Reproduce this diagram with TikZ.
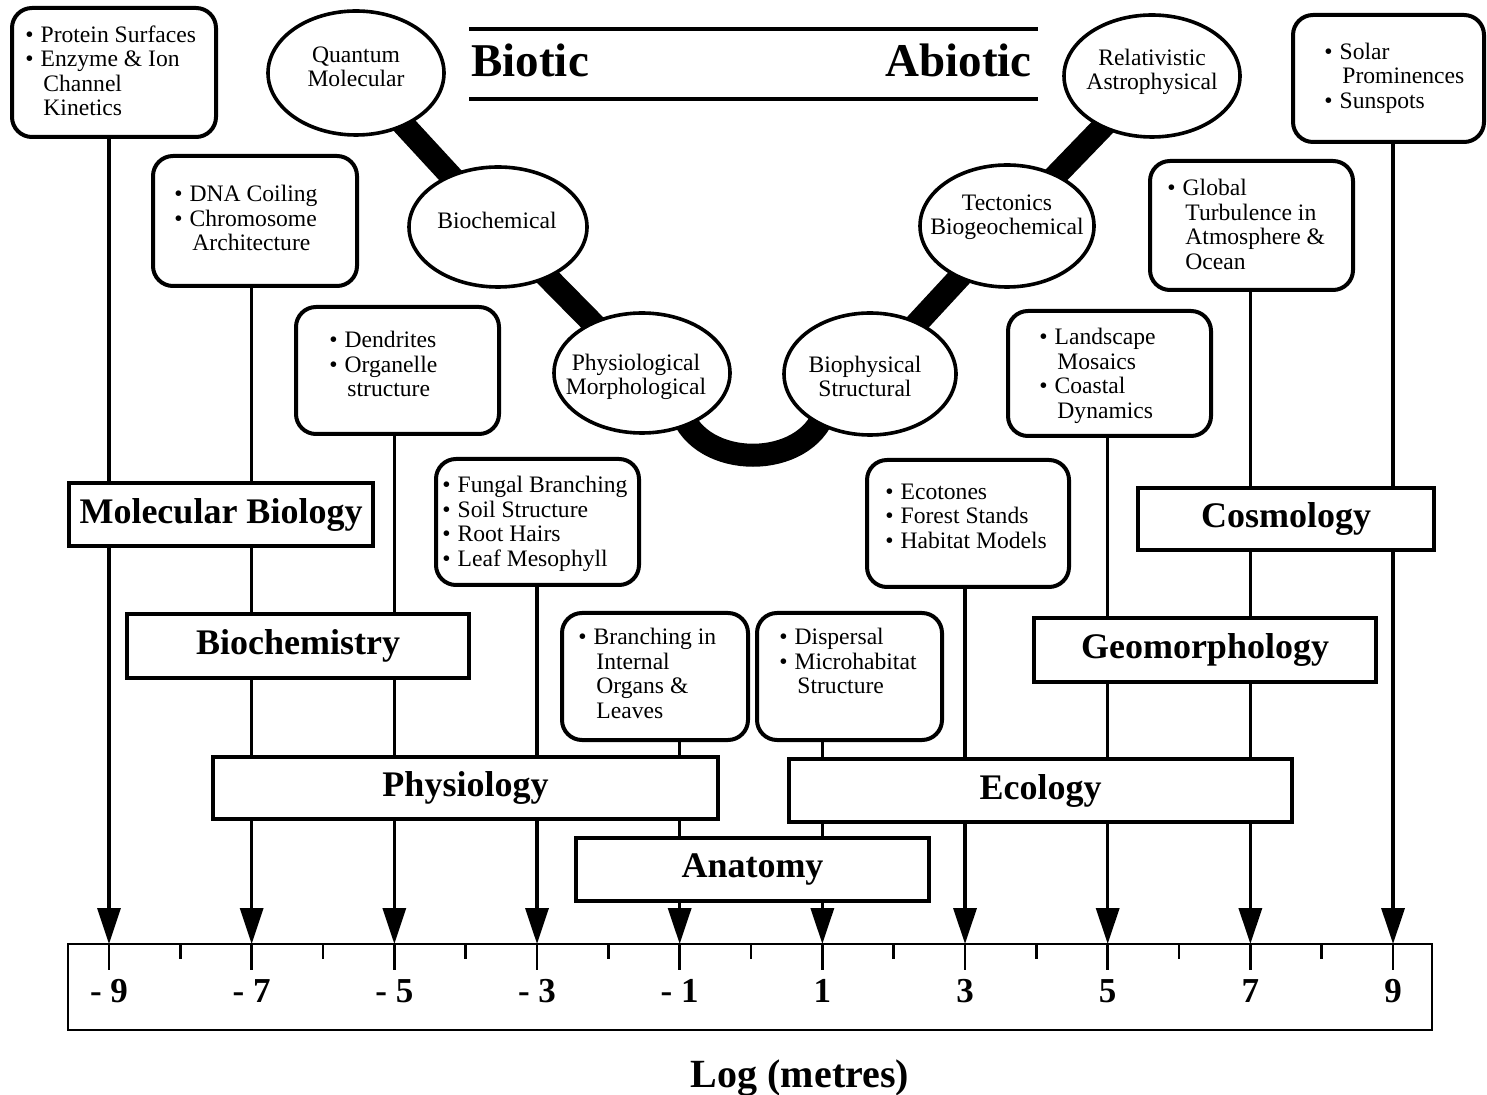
\documentclass[tikz,border=0pt]{standalone}
\usepackage{fontspec}
\setmainfont{Liberation Serif}
\usetikzlibrary{shapes.geometric,arrows.meta}
\pgfdeclarelayer{background}
\pgfsetlayers{background,main}
\newcommand{\bl}{\textbullet\hspace{3.5pt}}
\newcommand{\ind}{\hspace*{9pt}}
\begin{document}
\begin{tikzpicture}[x=0.5pt,y=-0.5pt,
  rbox/.style={draw, line width=2pt, rounded corners=10pt, fill=white, inner sep=0pt},
  dbox/.style={draw, line width=2pt, fill=white, inner sep=0pt, font=\bfseries\fontsize{18}{20}\selectfont},
  ell/.style={draw, ellipse, line width=1.8pt, fill=white, inner sep=0pt},
  etext/.style={align=center, inner sep=0pt, font=\fontsize{11.8}{12}\selectfont},
  btext/.style={align=left, anchor=north west, inner sep=0pt, font=\fontsize{11.8}{12.25}\selectfont},
  conn/.style={line width=1.7pt, -{Triangle[length=18pt,width=11.5pt]}},
  thickbar/.style={line width=11.5pt},
  rtick/.style={line width=1.3pt},
  lab/.style={font=\bfseries\fontsize{17.5}{18}\selectfont, anchor=base, inner sep=0pt},
  titlefont/.style={font=\bfseries\fontsize{23.5}{26}\selectfont, inner sep=0pt}
]
\useasboundingbox (0,0) rectangle (1487,1095);

% ---------- title ----------
\draw[line width=1.75pt] (469,29) -- (1038,29);
\draw[line width=1.75pt] (469,99) -- (1038,99);
\node[titlefont, anchor=base west] (biotic) at (471,77) {Biotic};
\node[titlefont, anchor=base east] (abiotic) at (1032,77) {Abiotic};

% ---------- ellipses ----------
\node[ell, minimum width=88pt, minimum height=62pt] (e1) at (356,73) {};
\node[etext] (e1t) at (356,67) {Quantum\\Molecular};
\node[ell, minimum width=89pt, minimum height=60pt] (e2) at (498,227) {};
\node[etext] (e2t) at (497,220) {Biochemical};
\node[ell, minimum width=88pt, minimum height=60pt] (e3) at (642,373) {};
\node[etext] (e3t) at (636,377) {Physiological\\Morphological};
\node[ell, minimum width=86pt, minimum height=61pt] (e4) at (870,374) {};
\node[etext] (e4t) at (865,376) {Biophysical\\Structural};
\node[ell, minimum width=87pt, minimum height=61pt] (e5) at (1007,226) {};
\node[etext] (e5t) at (1007,217) {Tectonics\\Biogeochemical};
\node[ell, minimum width=88pt, minimum height=61pt] (e6) at (1152,76) {};
\node[etext] (e6t) at (1152,72) {Relativistic\\Astrophysical};

% ---------- rounded example boxes ----------
\node[rbox, minimum width=102pt, minimum height=64.5pt] (b1) at (114,72.5) {};
\node[btext] (b1t) at (25,24.5) {\strut\bl Protein Surfaces\\\bl Enzyme \& Ion\\\ind Channel\\\ind Kinetics};
\node[rbox, minimum width=102pt, minimum height=65pt] (b2) at (255,221) {};
\node[btext] (b2t) at (174,184) {\strut\bl DNA Coiling\\\bl Chromosome\\\ind Architecture};
\node[rbox, minimum width=101.5pt, minimum height=63.5pt] (b3) at (397.5,370.5) {};
\node[btext] (b3t) at (329,330) {\strut\bl Dendrites\\\bl Organelle\\\ind structure};
\node[rbox, minimum width=101.5pt, minimum height=63pt] (b4) at (537.5,522) {};
\node[btext] (b4t) at (442,475) {\strut\bl Fungal Branching\\\bl Soil Structure\\\bl Root Hairs\\\bl Leaf Mesophyll};
\node[rbox, minimum width=93pt, minimum height=63.5pt] (b5) at (655,676.5) {};
\node[btext] (b5t) at (578,627) {\strut\bl Branching in\\\ind Internal\\\ind Organs \&\\\ind Leaves};
\node[rbox, minimum width=92.5pt, minimum height=63.5pt] (b6) at (849.5,676.5) {};
\node[btext] (b6t) at (779,627) {\strut\bl Dispersal\\\bl Microhabitat\\\ind Structure};
\node[rbox, minimum width=101pt, minimum height=63.5pt] (b7) at (968,523.5) {};
\node[btext] (b7t) at (885,481.5) {\strut\bl Ecotones\\\bl Forest Stands\\\bl Habitat Models};
\node[rbox, minimum width=101.5pt, minimum height=62.5pt] (b8) at (1109.5,373.5) {};
\node[btext] (b8t) at (1039,327) {\strut\bl Landscape\\\ind Mosaics\\\bl Coastal\\\ind Dynamics};
\node[rbox, minimum width=101.5pt, minimum height=64.5pt] (b9) at (1251.5,225.5) {};
\node[btext] (b9t) at (1167,178) {\strut\bl Global\\\ind Turbulence in\\\ind Atmosphere \&\\\ind Ocean};
\node[rbox, minimum width=95.5pt, minimum height=63.5pt] (b10) at (1388.5,78.5) {};
\node[btext] (b10t) at (1324,41.5) {\strut\bl Solar\\\ind Prominences\\\bl Sunspots};

% ---------- discipline boxes ----------
\node[dbox, minimum width=152pt, minimum height=31.5pt] (mb) at (221,514.5) {Molecular Biology};
\node[dbox, minimum width=171pt, minimum height=32pt] (bc) at (298,646) {Biochemistry};
\node[dbox, minimum width=252.5pt, minimum height=31pt] (ph) at (465.5,788) {Physiology};
\node[dbox, minimum width=176.5pt, minimum height=31.5pt] (an) at (752.5,869.5) {Anatomy};
\node[dbox, minimum width=251.5pt, minimum height=31.5pt] (ec) at (1040.5,790.5) {Ecology};
\node[dbox, minimum width=171pt, minimum height=32pt] (ge) at (1205,650) {Geomorphology};
\node[dbox, minimum width=148pt, minimum height=31pt] (co) at (1286,519) {Cosmology};

% ---------- ruler ----------
\node[draw, line width=1pt, minimum width=682pt, minimum height=43pt, inner sep=0pt] (ruler) at (750,987) {};
\foreach \i/\l in {0/{- 9},1/{- 7},2/{- 5},3/{- 3},4/{- 1},5/1,6/3,7/5,8/7,9/9} {
  \pgfmathsetmacro{\xx}{109+142.67*\i}
  \coordinate (t\i) at (\xx,944);
  \draw[rtick] (t\i) -- ++(0,26);
  \node[lab] (l\i) at (\xx,1002) {\l};
}
\foreach \i in {0,...,8} {
  \pgfmathsetmacro{\xx}{180.3+142.67*\i}
  \draw[rtick] (\xx,944) -- ++(0,15);
}
\node[anchor=base, inner sep=0pt, font=\bfseries\fontsize{20}{22}\selectfont] (logm) at (800,1087) {Log (metres)};

% ---------- background: bars and connectors ----------
\begin{pgfonlayer}{background}
  \draw[thickbar] (e1.center) -- (e2.center);
  \draw[thickbar] (e2.center) -- (e3.center);
  \draw[thickbar] (e4.center) -- (e5.center);
  \draw[thickbar] (e5.center) -- (e6.center);
  \draw[thickbar] ([shift={(39,38)}]e3.center) .. controls ([shift={(58,97)}]e3.center) and ([shift={(-64,96)}]e4.center) .. ([shift={(-45,37)}]e4.center);
  \draw[conn] (b1.south -| t0) -- (t0);
  \draw[conn] (b2.south -| t1) -- (t1);
  \draw[conn] (b3.south -| t2) -- (t2);
  \draw[conn] (b4.south -| t3) -- (t3);
  \draw[conn] (b5.south -| t4) -- (t4);
  \draw[conn] (b6.south -| t5) -- (t5);
  \draw[conn] (b7.south -| t6) -- (t6);
  \draw[conn] (b8.south -| t7) -- (t7);
  \draw[conn] (b9.south -| t8) -- (t8);
  \draw[conn] (b10.south -| t9) -- (t9);
\end{pgfonlayer}
\end{tikzpicture}
\end{document}
